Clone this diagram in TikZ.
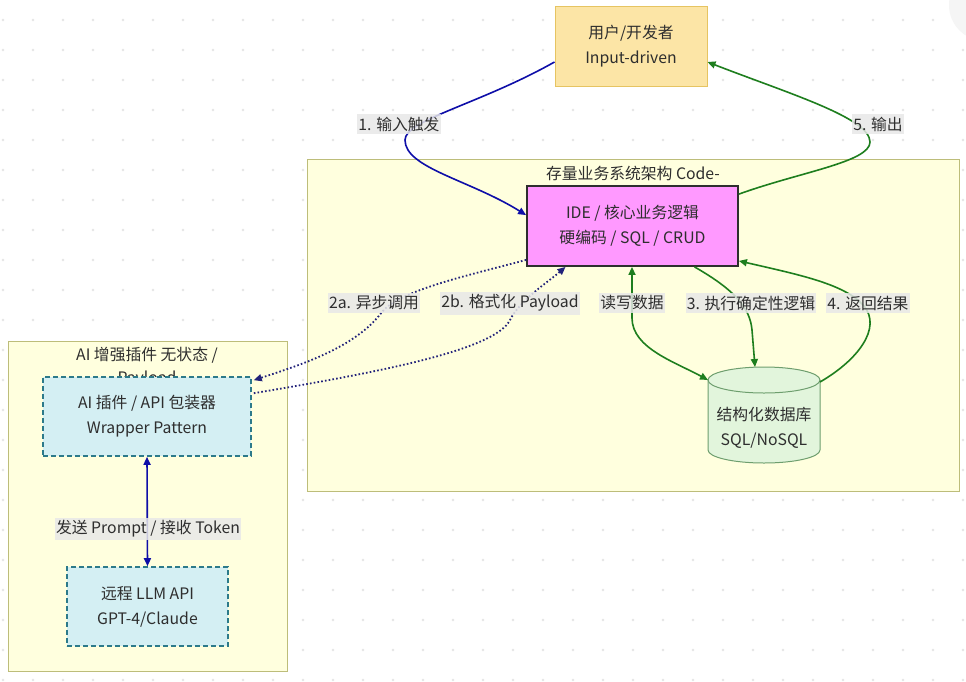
\documentclass[tikz,border=0pt]{standalone}
\usepackage{fontspec}
\setmainfont{Noto Sans CJK SC}
\usetikzlibrary{arrows.meta}
\definecolor{bluee}{HTML}{0E0EA8}
\definecolor{navyd}{HTML}{22227A}
\definecolor{greene}{HTML}{1E7E1E}
\definecolor{clfill}{HTML}{FFFFDE}
\definecolor{cldraw}{HTML}{BDBD7A}
\definecolor{userfill}{HTML}{FCE5A6}
\definecolor{userdraw}{HTML}{E6C462}
\definecolor{idefill}{HTML}{FF99FF}
\definecolor{plugfill}{HTML}{D4EFF3}
\definecolor{plugdraw}{HTML}{2C7A8A}
\definecolor{dbfill}{HTML}{E2F5DC}
\definecolor{dbdraw}{HTML}{6E9E6E}
\definecolor{txt}{HTML}{2E2E2E}
\definecolor{lblbg}{HTML}{E8E8E8}
\tikzset{
  x=1pt,y=-1pt,
  every node/.style={text=txt},
  boxtext/.style={align=center,font=\fontsize{15.8}{25}\selectfont,inner sep=0pt},
  userbox/.style={boxtext,draw=userdraw,fill=userfill,line width=1pt,minimum width=152pt,minimum height=80pt},
  idebox/.style={boxtext,draw=txt,fill=idefill,line width=1.8pt,minimum width=211pt,minimum height=80pt},
  plugbox/.style={boxtext,draw=plugdraw,fill=plugfill,line width=1.6pt,dash pattern=on 5pt off 3pt,minimum height=79pt},
  edgelbl/.style={fill=lblbg,fill opacity=0.85,text opacity=1,font=\fontsize{15.8}{18}\selectfont,inner xsep=1pt,inner ysep=3pt},
  cltitle/.style={font=\fontsize{15.8}{18}\selectfont,inner sep=0pt},
  tip/.style={-{Triangle[length=8pt,width=7pt]}},
  bothtip/.style={{Triangle[length=8pt,width=7pt]}-{Triangle[length=8pt,width=7pt]}},
  blueline/.style={draw=bluee,line width=1.6pt},
  greenline/.style={draw=greene,line width=1.6pt},
  dotline/.style={draw=navyd,line width=1.8pt,dash pattern=on 1.6pt off 2.2pt},
}
\begin{document}
\begin{tikzpicture}
\useasboundingbox (0,0) rectangle (966,681);
\fill[white] (0,0) rectangle (966,681);
% dot grid
\foreach \i in {0,...,32}{\foreach \j in {0,...,22}{
  \fill[black!10] (3+30*\i,20+30*\j) circle (1.3pt);}}
% faint corner shape
\begin{scope}
\clip (900,0) rectangle (966,40);
\fill[black!4] (985,5) circle (36pt);
\end{scope}
% clusters
\draw[cldraw,fill=clfill,line width=1pt] (307,159) rectangle (959,491);
\node[cltitle] (maintitle) at (633,173) {存量业务系统架构 Code-};
\draw[cldraw,fill=clfill,line width=1pt] (8,341) rectangle (287,671);
\node[cltitle] (lefttitle) at (147,355) {AI 增强插件 无状态 /};
\node[cltitle] (lefttitle2) at (147,379) {Payload};
% nodes
\node[userbox] (user) at (631,46) {用户/开发者\\Input-driven};
\node[idebox] (ide) at (632.5,226) {IDE / 核心业务逻辑\\硬编码 / SQL / CRUD};
\node[plugbox,minimum width=208pt] (plug) at (147,416.5) {AI 插件 / API 包装器\\Wrapper Pattern};
\node[plugbox,minimum width=161pt] (llm) at (147.5,606.5) {远程 LLM API\\GPT-4/Claude};
% database cylinder
\coordinate (dbtl) at (708,380);
\fill[dbfill] (708,380) -- (708,450) arc[start angle=180,end angle=360,x radius=56,y radius=-13] -- (820,380) -- cycle;
\fill[dbfill] (764,380) ellipse[x radius=56,y radius=13];
\draw[dbdraw,line width=1pt] (708,380) -- (708,450) arc[start angle=180,end angle=360,x radius=56,y radius=-13] -- (820,380);
\draw[dbdraw,line width=1pt] (764,380) ellipse[x radius=56,y radius=13];
\node[boxtext] (db) at (764,428) {结构化数据库\\SQL/NoSQL};
\coordinate (dbtop) at (755,367);
\coordinate (dbright) at (820,382);
% edges
\draw[blueline,tip] ([yshift=-16pt]user.west) .. controls (480,104) and (405,120) .. (405,140) .. controls (405,168) and (470,180) .. ([yshift=-30pt]ide.north west);
\node[edgelbl] (l1) at (399,124) {1. 输入触发};
\draw[greenline,tip] ([yshift=-9pt]ide.north east) .. controls (800,172) and (870,162) .. (870,142) .. controls (870,118) and (790,94) .. ([yshift=-16pt]user.east);
\node[edgelbl] (l5) at (878,124) {5. 输出};
\draw[dotline,tip] ([yshift=7pt]ide.south west) .. controls (470,275) and (400,290) .. (382,312) .. controls (355,348) and (300,365) .. ([xshift=2pt,yshift=-4pt]plug.north east);
\node[edgelbl] (l2a) at (374,303) {2a. 异步调用};
\draw[dotline,tip] ([xshift=2pt,yshift=-17pt]plug.north east) .. controls (380,372) and (495,350) .. (510,320) .. controls (520,300) and (548,282) .. ([xshift=-67pt]ide.south);
\node[edgelbl] (l2b) at (510,303) {2b. 格式化 Payload};
\draw[greenline,bothtip] ([xshift=-0.5pt]ide.south) -- (632,318) .. controls (632,348) and (675,362) .. (dbtl);
\node[edgelbl] (lrw) at (632,303) {读写数据};
\draw[greenline,tip] ([xshift=62pt]ide.south) .. controls (735,290) and (750,308) .. (752,330) -- (dbtop);
\node[edgelbl] (l3) at (751,303) {3. 执行确定性逻辑};
\draw[greenline,tip] (dbright) .. controls (858,360) and (882,328) .. (864,306) .. controls (845,284) and (800,275) .. ([yshift=6pt]ide.south east);
\node[edgelbl] (l4) at (868,303) {4. 返回结果};
\draw[blueline,bothtip] (plug.south) -- (llm.north);
\node[edgelbl] (lp) at (148,529) {发送 Prompt / 接收 Token};
\end{tikzpicture}
\end{document}
